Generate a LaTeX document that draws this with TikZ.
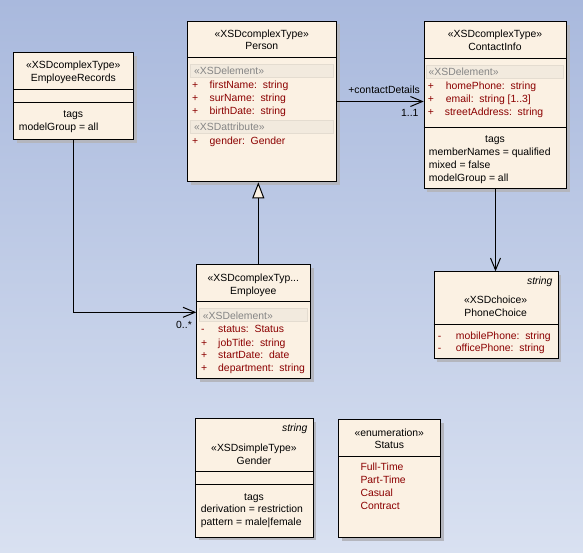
\documentclass[tikz,border=0pt]{standalone}
\usepackage{fontspec}
\setmainfont{Liberation Sans}
\usetikzlibrary{shadows,arrows.meta}
\definecolor{BgTop}{HTML}{A9B9DD}
\definecolor{BgBot}{HTML}{D9E1F1}
\definecolor{Cream}{HTML}{FBF1E3}
\definecolor{Band}{HTML}{F2EADE}
\definecolor{BandLine}{HTML}{E4DCD0}
\definecolor{Attr}{HTML}{8B0000}
\definecolor{Stereo}{HTML}{858585}
\definecolor{Shade}{HTML}{B4B6BE}

\tikzset{
  classbox/.style={draw,fill=Cream,line width=1pt,inner sep=0pt,anchor=north west,
    drop shadow={shadow xshift=3pt,shadow yshift=-3pt,fill=Shade,opacity=1}},
  txt/.style={inner sep=0pt,anchor=base,font=\fontsize{10.4}{12}\selectfont},
  ltxt/.style={txt,anchor=base west},
  attr/.style={ltxt,text=Attr},
  stereo/.style={ltxt,text=Stereo},
  band/.style={fill=Band,draw=BandLine,line width=0.6pt},
  sep/.style={line width=1pt},
  assoc/.style={line width=1pt,-{Straight Barb[length=12pt,width=10pt,line width=1pt]}},
  generalize/.style={line width=1pt,-{Triangle[open,length=16pt,width=12pt,fill=Cream,line width=1pt]}},
}

\begin{document}
\begin{tikzpicture}[x=1pt,y=-1pt]

\shade [top color=BgTop,bottom color=BgBot] (0,0) rectangle (583,553);
\useasboundingbox (0,0) rectangle (583,553);

% EmployeeRecords
\node [classbox,minimum width=120pt,minimum height=87pt] (emprec) at (13.3,52.3) {};
\node [txt] at (73.3,69) {«XSDcomplexType»};
\node [txt] at (73.3,81.5) {EmployeeRecords};
\draw [sep] (13.3,89.3) -- (133.3,89.3);
\draw [sep] (13.3,102.3) -- (133.3,102.3);
\node [txt] at (73.3,118) {tags};
\node [ltxt] at (18.7,130.5) {modelGroup = all};

% Person
\node [classbox,minimum width=149pt,minimum height=160.6pt] (person) at (187.3,20.7) {};
\node [txt] at (261.8,37.3) {«XSDcomplexType»};
\node [txt] at (261.8,49.5) {Person};
\draw [sep] (187.3,57.3) -- (336.3,57.3);
\draw [band] (190,64.3) rectangle (333.7,77.3);
\node [stereo] at (194,75) {«XSDelement»};
\node [attr] at (192,88.7) {+};
\node [attr] at (209.5,88.7) {firstName:\ \ string};
\node [attr] at (192,102) {+};
\node [attr] at (209.5,102) {surName:\ \ string};
\node [attr] at (192,114.7) {+};
\node [attr] at (209.5,114.7) {birthDate:\ \ string};
\draw [band] (190,120) rectangle (333.7,133.3);
\node [stereo] at (194,131) {«XSDattribute»};
\node [attr] at (192,144.7) {+};
\node [attr] at (209.5,144.7) {gender:\ \ Gender};

% ContactInfo
\node [classbox,minimum width=142.6pt,minimum height=167pt] (contact) at (423.7,21.3) {};
\node [txt] at (495,37.3) {«XSDcomplexType»};
\node [txt] at (495,50.3) {ContactInfo};
\draw [sep] (423.7,58.3) -- (566.3,58.3);
\draw [band] (426.3,65) rectangle (563.7,78.3);
\node [stereo] at (428.5,76) {«XSDelement»};
\node [attr] at (427.7,90) {+};
\node [attr] at (445.7,90) {homePhone:\ \ string};
\node [attr] at (427.7,103) {+};
\node [attr] at (445.7,103) {email:\ \ string [1..3]};
\node [attr] at (427.7,116) {+};
\node [attr] at (444.7,116) {streetAddress:\ \ string};
\draw [sep] (423.7,127.3) -- (566.3,127.3);
\node [txt] at (495,142.7) {tags};
\node [ltxt] at (428.7,156) {memberNames = qualified};
\node [ltxt] at (428.7,168.7) {mixed = false};
\node [ltxt] at (428.7,181.7) {modelGroup = all};

% Employee
\node [classbox,minimum width=114pt,minimum height=114pt] (employee) at (196.3,264.3) {};
\node [txt] at (253.3,281.3) {«XSDcomplexTyp...};
\node [txt] at (253.3,294) {Employee};
\draw [sep] (196.3,301) -- (310.3,301);
\draw [band] (199.3,308.3) rectangle (307.7,321.7);
\node [stereo] at (202.7,319.5) {«XSDelement»};
\node [attr] at (201,332.7) {-};
\node [attr] at (218,332.7) {status:\ \ Status};
\node [attr] at (201,346) {+};
\node [attr] at (218,346) {jobTitle:\ \ string};
\node [attr] at (201,358.7) {+};
\node [attr] at (218,358.7) {startDate:\ \ date};
\node [attr] at (201,371.3) {+};
\node [attr] at (218,371.3) {department:\ \ string};

% PhoneChoice
\node [classbox,minimum width=124pt,minimum height=87pt] (phone) at (433.7,271.3) {};
\node [txt,anchor=base east,font=\fontsize{10.4}{12}\selectfont\itshape] at (552.7,284.7) {string};
\node [txt] at (495.7,303.3) {«XSDchoice»};
\node [txt] at (495.7,316.7) {PhoneChoice};
\draw [sep] (433.7,324.7) -- (557.7,324.7);
\node [attr] at (437.7,339) {-};
\node [attr] at (455.7,339) {mobilePhone:\ \ string};
\node [attr] at (437.7,351.7) {-};
\node [attr] at (455.7,351.7) {officePhone:\ \ string};

% Gender
\node [classbox,minimum width=117.4pt,minimum height=118.4pt] (gender) at (195.3,418.3) {};
\node [txt,anchor=base east,font=\fontsize{10.4}{12}\selectfont\itshape] at (307.7,431.3) {string};
\node [txt] at (254,451.3) {«XSDsimpleType»};
\node [txt] at (254,464) {Gender};
\draw [sep] (195.3,471.3) -- (312.7,471.3);
\draw [sep] (195.3,484.3) -- (312.7,484.3);
\node [txt] at (254,500) {tags};
\node [ltxt] at (200.7,512.7) {derivation = restriction};
\node [ltxt] at (200.7,525.7) {pattern = male|female};

% Status
\node [classbox,minimum width=102pt,minimum height=118pt] (status) at (338.3,419.3) {};
\node [txt] at (389.3,436) {«enumeration»};
\node [txt] at (389.3,448.3) {Status};
\draw [sep] (338.3,456.3) -- (440.3,456.3);
\node [attr] at (360.3,470.7) {Full-Time};
\node [attr] at (360.3,483.7) {Part-Time};
\node [attr] at (360.3,496.7) {Casual};
\node [attr] at (360.3,509.7) {Contract};

% connectors
\draw [assoc] (person.east) -- (person.east -| contact.west);
\node [txt,anchor=base east] (role) at (420,93.3) {+contactDetails};
\node [txt,anchor=base east] (mult) at (418.7,116.7) {1..1};

\coordinate (empin) at (196.3,312.3);
\draw [assoc] (emprec.south) |- (empin);
\node [txt,anchor=base east] (emult) at (192,328) {0..*};

\coordinate (genfrom) at (258.3,264.3);
\draw [generalize] (genfrom) -- (genfrom |- person.south);

\draw [assoc] (contact.south) -- (contact.south |- phone.north);

\end{tikzpicture}
\end{document}
